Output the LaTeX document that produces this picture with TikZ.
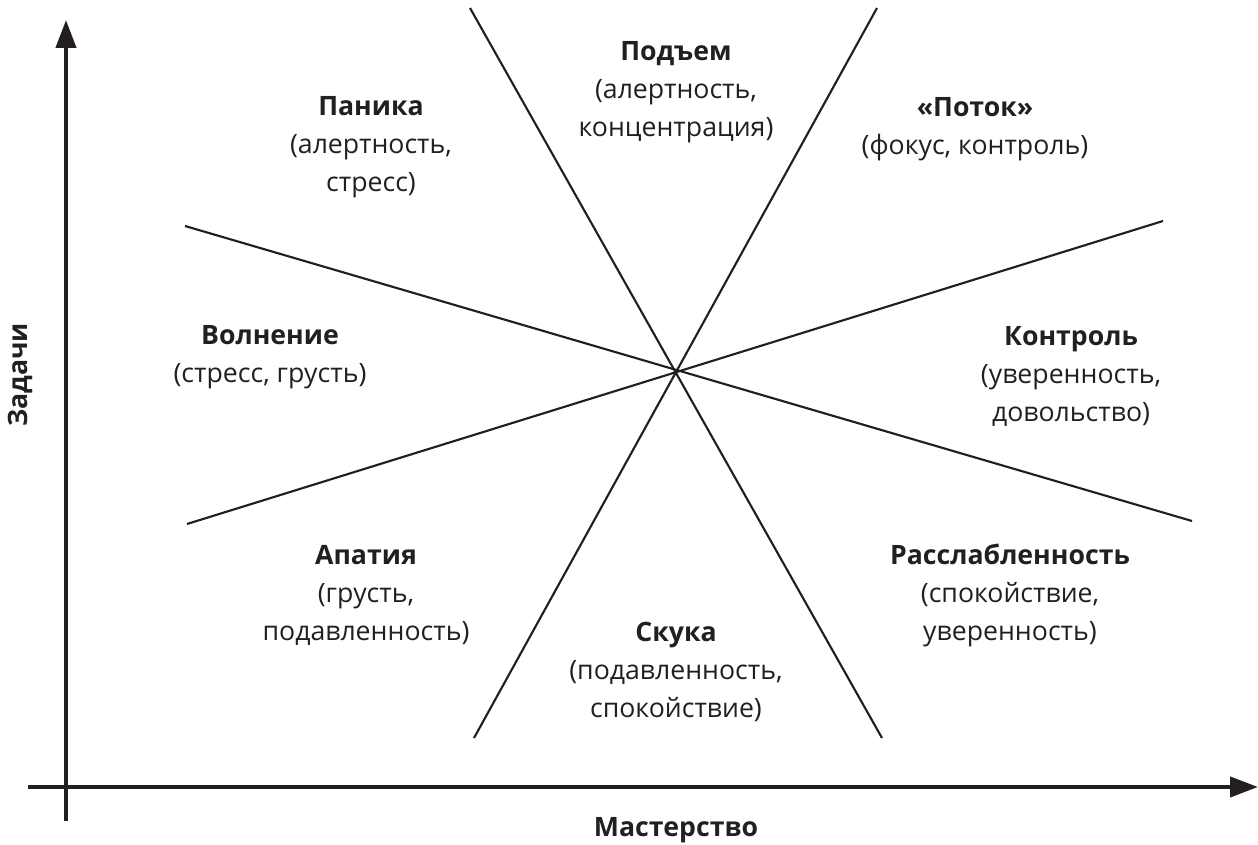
\documentclass[tikz,border=0pt]{standalone}
\usepackage{fontspec}
\setmainfont{Open Sans}
\usetikzlibrary{arrows.meta}
\definecolor{ink}{HTML}{231F20}
\begin{document}
\begin{tikzpicture}[x=0.75pt,y=-0.75pt,
  lbl/.style={align=center,text=ink,font=\fontsize{20}{28.5}\selectfont},
  axis/.style={draw=ink,line width=3.2pt,-{Triangle[width=15pt,length=21pt]}},
  sector/.style={draw=ink,line width=1.6pt}]
\useasboundingbox (0,0) rectangle (1258,845);
% diagonal lines
\coordinate (c) at (675,373);
\coordinate (a1) at (470,8);   \coordinate (b1) at (882,738);
\coordinate (a2) at (877,8);   \coordinate (b2) at (474,738);
\coordinate (a3) at (185,226); \coordinate (b3) at (1192,521);
\coordinate (a4) at (187,524); \coordinate (b4) at (1163,221);
\draw[sector] (a1) -- (b1);
\draw[sector] (a2) -- (b2);
\draw[sector] (a3) -- (b3);
\draw[sector] (a4) -- (b4);
% axes
\coordinate (ys) at (66,821); \coordinate (ye) at (66,20);
\coordinate (xs) at (28,787); \coordinate (xe) at (1258,787);
\draw[axis] (ys) -- (ye);
\draw[axis] (xs) -- (xe);
% labels
\node[lbl] (panika) at (371,147) {\textbf{Паника}\\(алертность,\\стресс)};
\node[lbl] (podjem) at (676,92) {\textbf{Подъем}\\(алертность,\\концентрация)};
\node[lbl] (potok) at (975,129) {\textbf{«Поток»}\\(фокус, контроль)};
\node[lbl] (volnenie) at (270,357) {\textbf{Волнение}\\(стресс, грусть)};
\node[lbl] (kontrol) at (1071,376) {\textbf{Контроль}\\(уверенность,\\довольство)};
\node[lbl] (apatiya) at (366,595) {\textbf{Апатия}\\(грусть,\\подавленность)};
\node[lbl] (rassl) at (1010,595) {\textbf{Расслабленность}\\(спокойствие,\\уверенность)};
\node[lbl] (skuka) at (676,672) {\textbf{Скука}\\(подавленность,\\спокойствие)};
\node[lbl,rotate=90] (zadachi) at (20,375) {\textbf{Задачи}};
\node[lbl] (master) at (676,830) {\textbf{Мастерство}};
\end{tikzpicture}
\end{document}
